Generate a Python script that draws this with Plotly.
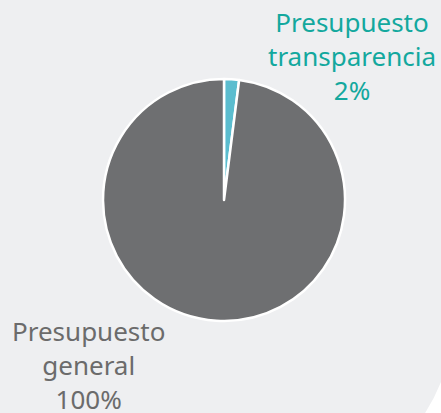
"""Pie: presupuesto general vs presupuesto transparencia."""

import plotly.graph_objects as go

labels = ["Presupuesto<br>transparencia", "Presupuesto<br>general"]
values = [2, 98]
shown_pct = ["2%", "100%"]
slice_colors = ["#5bbdcf", "#6e6f71"]
text_colors = ["#13a89e", "#6b6b6b"]

fig = go.Figure(
    go.Pie(
        labels=labels, values=values, sort=False, direction="clockwise",
        rotation=0, textinfo="none", hoverinfo="label+percent",
        marker=dict(colors=slice_colors, line=dict(color="#ffffff", width=2.5)),
        domain=dict(x=[0.2336, 0.7823], y=[0.2228, 0.8087]),
        showlegend=False,
    )
)

# label positions (paper coords) for each slice
label_pos = [(0.798, 0.864), (0.2, 0.116)]
for lab, pct, col, (ax, ay) in zip(labels, shown_pct, text_colors, label_pos):
    fig.add_annotation(
        x=ax, y=ay, xref="paper", yref="paper", showarrow=False,
        text=f"{lab}<br>{pct}", align="center",
        font=dict(family="Noto Sans", size=26, color=col),
        xanchor="center", yanchor="middle",
    )

# white corner at bottom right
fig.add_shape(type="path", xref="paper", yref="paper",
              path="M 1,0.075 Q 0.985,0.035 0.964,0 L 1,0 Z",
              fillcolor="#ffffff", line=dict(width=0), layer="below")

fig.update_layout(
    width=441, height=413, margin=dict(l=0, r=0, t=0, b=0),
    paper_bgcolor="#eeeff1", plot_bgcolor="#eeeff1",
)
fig.write_html("out.html", config={"displayModeBar": False},
               post_script="document.body.style.margin='0';")
